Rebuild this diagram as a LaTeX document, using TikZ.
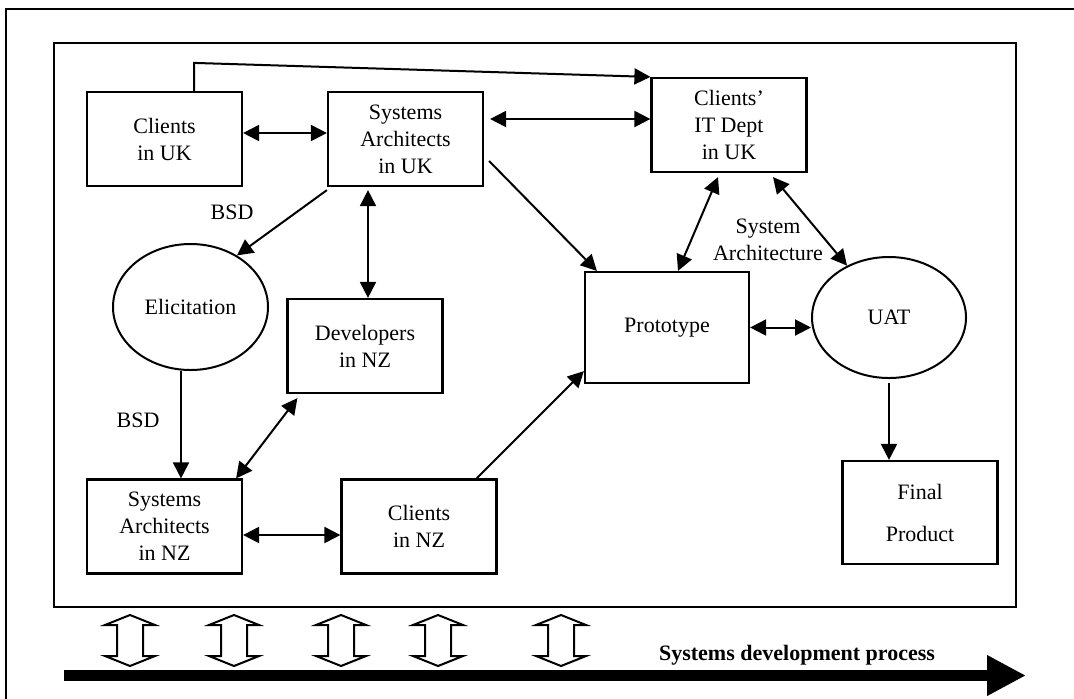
\documentclass[tikz,border=0pt]{standalone}
\usepackage{fontspec}
\setmainfont{Liberation Serif}
\usetikzlibrary{arrows.meta, calc, positioning, shapes.geometric}

\begin{document}
\begin{tikzpicture}[x=0.5pt, y=-0.5pt, >={Triangle[length=8pt, width=8pt]},
  every node/.style={font=\fontsize{11}{13.5}\selectfont},
  etape/.style={rectangle, draw, line width=1.1pt, minimum width=77.5pt, minimum height=47pt, align=center, inner sep=0pt},
  bulle/.style={ellipse, draw, line width=1pt, minimum width=77.5pt, minimum height=63pt, inner sep=0pt},
  lien/.style={line width=1pt},
  creux/.style={draw, line width=1pt, fill=white}]
  \useasboundingbox (0,0) rectangle (1074,698);
  \draw[line width=1.2pt] (6,9) rectangle (1090,720);
  \draw[line width=1.2pt] (54,43) rectangle (1016,607);

  \node[etape] (cluk) at (164.5,139) {Clients\\in UK};
  \node[etape] (sauk) at (405.5,139) {Systems\\Architects\\in UK};
  \node[etape] (itdept) at (729,125) {Clients'\\IT Dept\\in UK};
  \node[bulle] (elic) at (190.5,307) {Elicitation};
  \node[etape] (devnz) at (365,346) {Developers\\in NZ};
  \node[etape] (sanz) at (164.5,526.5) {Systems\\Architects\\in NZ};
  \node[etape] (clnz) at (419,526.5) {Clients\\in NZ};
  \node[etape, minimum width=82pt, minimum height=55.5pt] (proto) at (667,327.5) {Prototype};
  \node[bulle, minimum width=77pt, minimum height=60.5pt] (uat) at (889,317.5) {UAT};
  \node[etape, minimum height=51.5pt] (final) at (920,512.5) {Final\\[7.5pt]Product};

  \node (bsdhaut) at (232,212) {BSD};
  \node (bsdbas) at (138,420) {BSD};
  \node[align=center] (sysarch) at (768,240) {System\\Architecture};

  \draw[lien, <->] ([yshift=3pt]cluk.east) -- ([yshift=3pt]sauk.west);
  \draw[lien, ->] ([xshift=14.75pt]cluk.north) -- ++(0,-28) -- (itdept.north west);
  \draw[lien, <->] ([shift={(3pt,10pt)}]sauk.east) -- ([yshift=3pt]itdept.west);
  \draw[lien, ->] ([yshift=-1.5pt]sauk.south west) -- (elic.48);
  \draw[lien, <->] ([shift={(-18.75pt,-1.5pt)}]sauk.south) -- ([xshift=1.5pt]devnz.north);
  \draw[lien, ->] ([shift={(2.5pt,-11pt)}]sauk.east) -- ([xshift=6.5pt]proto.north west);
  \draw[lien, <->] ([shift={(-5.5pt,-2pt)}]itdept.south) -- ([xshift=5.5pt]proto.north);
  \draw[lien, <->] ([shift={(22pt,-2pt)}]itdept.south) -- (uat.129);
  \draw[lien, <->] (proto.east) -- (proto.east -| uat.west);
  \draw[lien, ->] ([xshift=-4.75pt]elic.south) -- ([xshift=8.25pt]sanz.north);
  \draw[lien, <->] ([shift={(5.5pt,-2pt)}]devnz.south west) -- ([xshift=-3.5pt]sanz.north east);
  \draw[lien, <->] ([yshift=-4.25pt]sanz.east) -- ([yshift=-4.25pt]clnz.west);
  \draw[lien, ->] ([xshift=-10.5pt]clnz.north east) -- ([yshift=6.5pt]proto.south west);
  \draw[lien, ->] ([yshift=-2pt]uat.south) -- (uat.south |- final.north);

  \foreach \cx in {130,234,341,438,561}
    \draw[creux] (\cx,615) -- ++(25,10) -- ++(-12,0) -- ++(0,31) -- ++(12,0) -- (\cx,666)
      -- ++(-25,-10) -- ++(12,0) -- ++(0,-31) -- ++(-12,0) -- cycle;

  \coordinate (debut) at (64,675.5);
  \coordinate (fin) at (1026,675.5);
  \draw[line width=5.5pt, -{Triangle[length=19.5pt, width=19pt]}] (debut) -- (fin);
  \node[font=\fontsize{11}{13.5}\selectfont\bfseries] (procede) at (797,655) {Systems development process};
\end{tikzpicture}
\end{document}
